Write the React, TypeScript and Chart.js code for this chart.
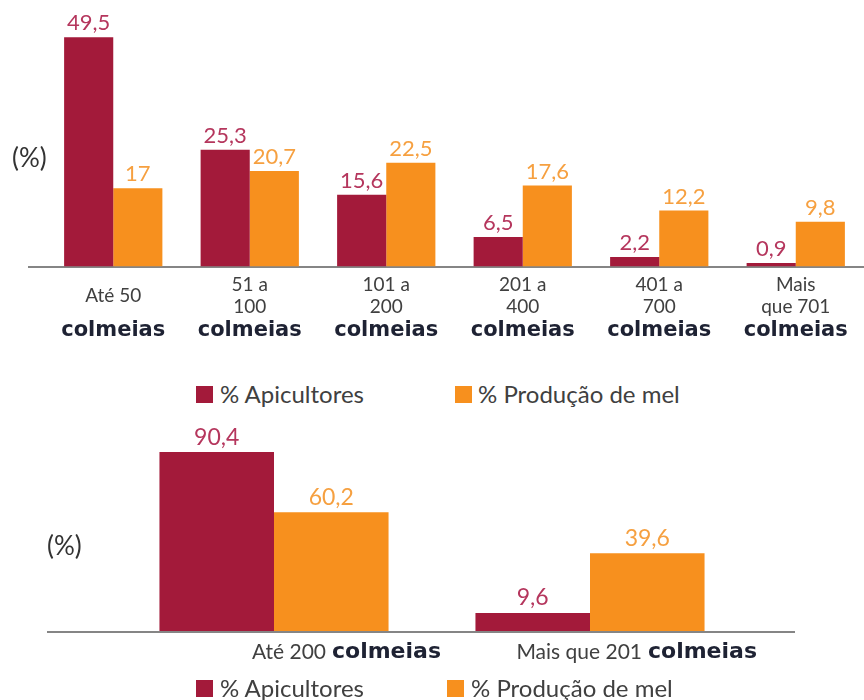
import React, { useEffect, useRef } from 'react';
import { Chart, registerables } from 'chart.js';

Chart.register(...registerables);

// ---------- data ----------
const topCategories: (string | string[])[] = [
  'Até 50',
  ['51 a', '100'],
  ['101 a', '200'],
  ['201 a', '400'],
  ['401 a', '700'],
  ['Mais', 'que 701'],
];
const unitWord = 'colmeias';
const topApicultores = [49.5, 25.3, 15.6, 6.5, 2.2, 0.9];
const topProducao = [17, 20.7, 22.5, 17.6, 12.2, 9.8];

const bottomCategories = ['Até 200', 'Mais que 201'];
const bottomApicultores = [90.4, 9.6];
const bottomProducao = [60.2, 39.6];

const seriesNames = ['% Apicultores', '% Produção de mel'];
const axisLabel = '(%)';

// ---------- styles ----------
const CRIMSON = '#A31A3A';
const ORANGE = '#F7901E';
const CRIMSON_LABEL = '#B5365D';
const ORANGE_LABEL = '#F6A040';
const TEXT = '#404040';
const UNIT = '#1E2233';
const AXIS = '#858585';
const SANS = 'Lato';

const valueLabels = {
  id: 'valueLabels',
  afterDatasetsDraw(chart: any, _args: any, opts: any) {
    const { ctx } = chart;
    ctx.save();
    ctx.font = opts.font;
    ctx.textAlign = 'center';
    ctx.textBaseline = 'middle';
    chart.data.datasets.forEach((ds: any, i: number) => {
      const meta = chart.getDatasetMeta(i);
      ctx.fillStyle = opts.colors[i];
      meta.data.forEach((bar: any, j: number) => {
        const v = ds.data[j];
        ctx.fillText(String(v).replace('.', ','), bar.x, bar.y - opts.gap);
      });
    });
    ctx.restore();
  },
};

const zeroOnly = (ctx: any) => (ctx.tick && ctx.tick.value === 0 ? AXIS : 'rgba(0,0,0,0)');

function makeTopConfig(): any {
  return {
    type: 'bar',
    data: {
      labels: topCategories,
      datasets: [
        { label: seriesNames[0], data: topApicultores, backgroundColor: CRIMSON, categoryPercentage: 0.72, barPercentage: 1 },
        { label: seriesNames[1], data: topProducao, backgroundColor: ORANGE, categoryPercentage: 0.72, barPercentage: 1 },
      ],
    },
    options: {
      responsive: false,
      animation: false,
      devicePixelRatio: 1,
      layout: { padding: { left: 28, top: 35, right: 0, bottom: 14 } },
      plugins: {
        legend: { display: false },
        tooltip: { enabled: false },
        valueLabels: { font: `22px ${SANS}`, colors: [CRIMSON_LABEL, ORANGE_LABEL], gap: 14 },
      },
      scales: {
        x: {
          type: 'category',
          offset: true,
          grid: { display: false, drawTicks: false },
          border: { display: false },
          ticks: {
            color: TEXT,
            font: { family: SANS, size: 19, lineHeight: '22px' },
            padding: 18,
            crossAlign: 'center',
            maxRotation: 0,
            minRotation: 0,
            autoSkip: false,
          },
        },
        xUnit: {
          type: 'category',
          position: 'bottom',
          labels: topCategories.map(() => unitWord),
          offset: true,
          grid: { display: false, drawTicks: false },
          border: { display: false },
          ticks: {
            color: UNIT,
            font: { family: 'DejaVu Sans', size: 21, weight: 'bold', lineHeight: 1.2 },
            mirror: true,
            padding: 4.4,
            maxRotation: 0,
            minRotation: 0,
            autoSkip: false,
          },
        },
        y: {
          min: 0,
          max: 50,
          ticks: { display: false, stepSize: 50 },
          border: { display: false },
          grid: { color: zeroOnly, lineWidth: 2, tickLength: 17, drawTicks: true },
        },
      },
    },
    plugins: [valueLabels],
  };
}

function makeBottomConfig(): any {
  return {
    type: 'bar',
    data: {
      labels: bottomCategories,
      datasets: [
        { label: seriesNames[0], data: bottomApicultores, backgroundColor: CRIMSON, categoryPercentage: 0.725, barPercentage: 1 },
        { label: seriesNames[1], data: bottomProducao, backgroundColor: ORANGE, categoryPercentage: 0.725, barPercentage: 1 },
      ],
    },
    options: {
      responsive: false,
      animation: false,
      devicePixelRatio: 1,
      layout: { padding: { left: 47, top: 23, right: 69, bottom: 9.4 } },
      plugins: {
        legend: { display: false },
        tooltip: { enabled: false },
        valueLabels: { font: `23px ${SANS}`, colors: [CRIMSON_LABEL, ORANGE_LABEL], gap: 15 },
      },
      scales: {
        x: {
          type: 'category',
          offset: true,
          grid: { display: false, drawTicks: false },
          border: { display: false },
          ticks: {
            color: TEXT,
            font: { family: SANS, size: 21, lineHeight: 1.2 },
            padding: 7.4,
            align: 'end',
            labelOffset: 52,
            maxRotation: 0,
            minRotation: 0,
            autoSkip: false,
          },
        },
        xUnit: {
          type: 'category',
          position: 'bottom',
          labels: bottomCategories.map(() => unitWord),
          offset: true,
          grid: { display: false, drawTicks: false },
          border: { display: false },
          ticks: {
            color: UNIT,
            font: { family: 'DejaVu Sans', size: 22, weight: 'bold', lineHeight: 1.2 },
            mirror: true,
            padding: 6.8,
            align: 'start',
            labelOffset: 58,
            maxRotation: 0,
            minRotation: 0,
            autoSkip: false,
          },
        },
        y: {
          min: 0,
          max: 100,
          ticks: { display: false, stepSize: 100 },
          border: { display: false },
          grid: { color: zeroOnly, lineWidth: 2, tickLength: 69, drawTicks: true },
        },
        y2: {
          type: 'linear',
          position: 'right',
          min: 0,
          max: 100,
          ticks: { display: false, stepSize: 100 },
          border: { display: false },
          grid: { color: zeroOnly, lineWidth: 2, tickLength: 47, drawTicks: true, drawOnChartArea: false },
        },
      },
    },
    plugins: [valueLabels],
  };
}

function ChartCanvas({ makeConfig, top, width, height }: { makeConfig: () => any; top: number; width: number; height: number }) {
  const ref = useRef<HTMLCanvasElement>(null);
  useEffect(() => {
    const chart = new Chart(ref.current as HTMLCanvasElement, makeConfig());
    return () => chart.destroy();
  }, []);
  return (
    <canvas
      ref={ref}
      width={width}
      height={height}
      style={{ position: 'absolute', left: 0, top, width, height, display: 'block' }}
    />
  );
}

const textStyle = { position: 'absolute' as const, fontFamily: SANS, color: TEXT, whiteSpace: 'nowrap' as const };

function LegendItem({ left, textLeft, centerY, color, text }: { left: number; textLeft: number; centerY: number; color: string; text: string }) {
  return (
    <>
      <div style={{ position: 'absolute', left, top: centerY - 8, width: 17, height: 17, background: color }} />
      <div style={{ ...textStyle, left: textLeft, top: centerY - 14, fontSize: 24, lineHeight: '28px' }}>{text}</div>
    </>
  );
}

export default function App() {
  return (
    <div style={{ position: 'absolute', left: 0, top: 0, width: 864, height: 700, overflow: 'hidden', background: '#fff' }}>
      <ChartCanvas makeConfig={makeTopConfig} top={0} width={864} height={370} />
      <ChartCanvas makeConfig={makeBottomConfig} top={410} width={864} height={285} />
      <div style={{ ...textStyle, left: 12, top: 142, fontSize: 26, lineHeight: '30px', color: '#333' }}>{axisLabel}</div>
      <div style={{ ...textStyle, left: 47, top: 530, fontSize: 26, lineHeight: '30px', color: '#333' }}>{axisLabel}</div>
      <LegendItem left={196} textLeft={220} centerY={394} color={CRIMSON} text={seriesNames[0]} />
      <LegendItem left={455} textLeft={478} centerY={394} color={ORANGE} text={seriesNames[1]} />
      <LegendItem left={196} textLeft={220} centerY={688} color={CRIMSON} text={seriesNames[0]} />
      <LegendItem left={447} textLeft={471} centerY={688} color={ORANGE} text={seriesNames[1]} />
    </div>
  );
}
